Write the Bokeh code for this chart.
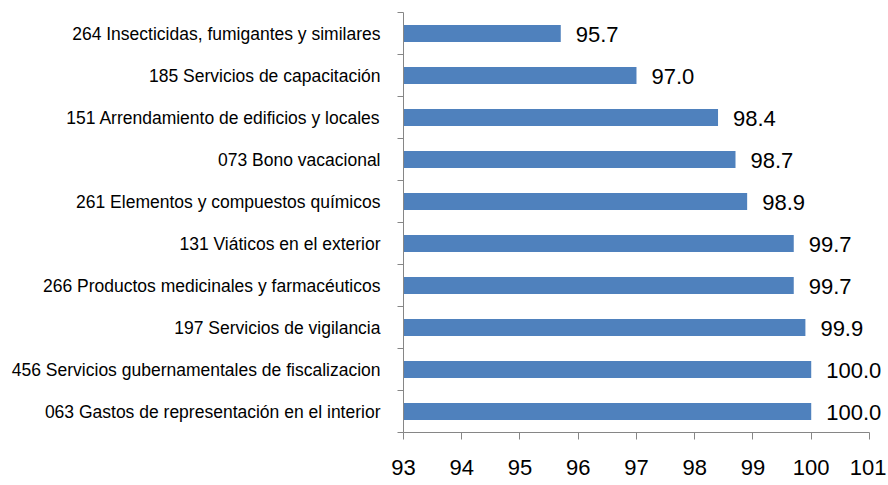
from bokeh.plotting import figure
from bokeh.models import FixedTicker, ColumnDataSource, Range1d
from bokeh.embed import file_html
from bokeh.resources import INLINE
from bokeh.core.properties import value

# Data (top to bottom as shown)
categories = [
    "264 Insecticidas, fumigantes y similares",
    "185 Servicios de capacitación",
    "151 Arrendamiento de edificios y locales",
    "073 Bono vacacional",
    "261 Elementos y compuestos químicos",
    "131 Viáticos en el exterior",
    "266 Productos medicinales y farmacéuticos",
    "197 Servicios de vigilancia",
    "456 Servicios gubernamentales de fiscalizacion",
    "063 Gastos de representación en el interior",
]
values = [95.7, 97.0, 98.4, 98.7, 98.9, 99.7, 99.7, 99.9, 100.0, 100.0]
x_ticks = [93, 94, 95, 96, 97, 98, 99, 100, 101]

FONT = "Liberation Sans"
GRAY = "#868686"

n = len(categories)
ypos = [n - 1 - i + 0.5 for i in range(n)]
src = ColumnDataSource(dict(y=ypos, v=values, lbl=[f"{v:.1f}" for v in values]))

p = figure(width=886, height=483, output_backend="svg", toolbar_location=None,
           x_range=Range1d(93, 101.258), y_range=Range1d(0, n),
           min_border_left=403, min_border_right=2, min_border_top=12, min_border_bottom=51)
p.outline_line_color = None
p.grid.grid_line_color = None
p.background_fill_color = "white"
p.border_fill_color = "white"

p.hbar(y="y", left=93, right="v", height=0.4, source=src,
       fill_color="#4F81BD", line_color=None)
p.text(x="v", y="y", text="lbl", source=src, x_offset=15, y_offset=1,
       text_font=value(FONT), text_font_size="22px", text_baseline="middle",
       text_align="left", text_color="black")

# x axis
p.xaxis.ticker = FixedTicker(ticks=x_ticks)
p.xaxis.bounds = (93, 101)
p.xaxis.axis_line_color = GRAY
p.xaxis.major_tick_line_color = GRAY
p.xaxis.major_tick_out = 7
p.xaxis.major_tick_in = 0
p.xaxis.minor_tick_line_color = None
p.xaxis.major_label_text_font = FONT
p.xaxis.major_label_text_font_size = "22px"
p.xaxis.major_label_text_color = "black"
p.xaxis.major_label_standoff = 20

# y axis
p.yaxis.ticker = FixedTicker(ticks=ypos, minor_ticks=list(range(n + 1)))
p.yaxis.major_label_overrides = {y: c for y, c in zip(ypos, categories)}
p.yaxis.axis_line_color = GRAY
p.yaxis.major_tick_line_color = None
p.yaxis.major_tick_out = 0
p.yaxis.major_tick_in = 0
p.yaxis.minor_tick_line_color = GRAY
p.yaxis.minor_tick_out = 6
p.yaxis.minor_tick_in = 0
p.yaxis.major_label_text_font = FONT
p.yaxis.major_label_text_font_size = "17.5px"
p.yaxis.major_label_text_color = "black"
p.yaxis.major_label_standoff = 17

open("out.html", "w").write(file_html(p, INLINE))
